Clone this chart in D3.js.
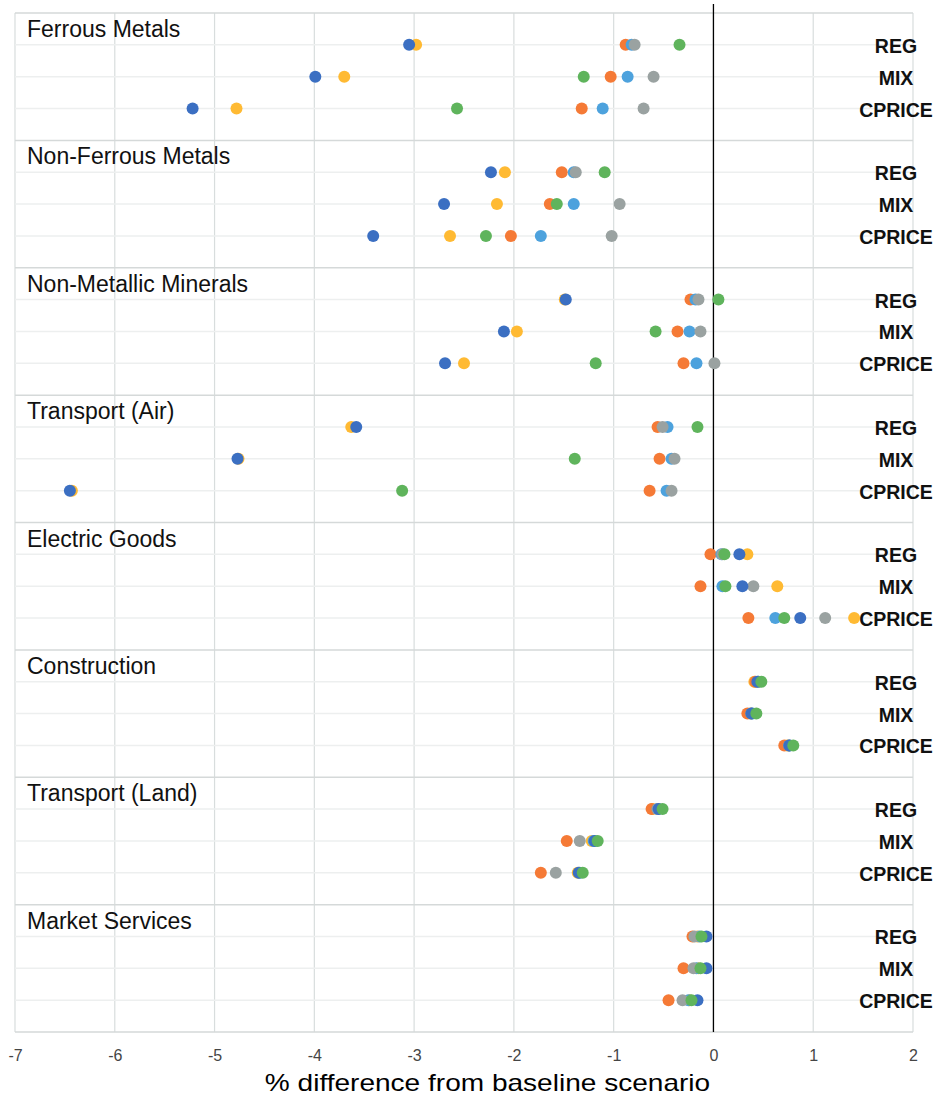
<!DOCTYPE html>
<html>
<head>
<meta charset="utf-8">
<script src="https://cdn.jsdelivr.net/npm/d3@7"></script>
<style>
  html, body { margin: 0; padding: 0; background: #ffffff; }
  svg { display: block; font-family: "Liberation Sans", Arial, sans-serif; }
</style>
</head>
<body>
<svg id="chart" width="935" height="1097"></svg>
<script>
// ---------- data ----------
const categories = ["Ferrous Metals", "Non-Ferrous Metals", "Non-Metallic Minerals", "Transport (Air)",
                    "Electric Goods", "Construction", "Transport (Land)", "Market Services"];
const scenarios = ["REG", "MIX", "CPRICE"];
const xTicks = [-7, -6, -5, -4, -3, -2, -1, 0, 1, 2];

// values per category: [REG, MIX, CPRICE], listed in drawing order
const seriesYellow = [
  [-2.98, -3.70, -4.78], [-2.09, -2.17, -2.64], [-1.49, -1.97, -2.50], [-3.63, -4.76, -6.43],
  [0.34, 0.64, 1.41], [0.41, 0.37, 0.74], [-0.61, -1.22, -1.36], [-0.16, -0.15, -0.24]
];
const seriesOrange = [
  [-0.88, -1.03, -1.32], [-1.52, -1.64, -2.03], [-0.23, -0.36, -0.30], [-0.56, -0.54, -0.64],
  [-0.03, -0.13, 0.35], [0.42, 0.34, 0.71], [-0.62, -1.47, -1.73], [-0.21, -0.30, -0.45]
];
const seriesLightBlue = [
  [-0.82, -0.86, -1.11], [-1.40, -1.40, -1.73], [-0.18, -0.24, -0.17], [-0.46, -0.42, -0.47],
  [0.08, 0.09, 0.62], [0.45, 0.39, 0.76], [-0.56, -1.20, -1.34], [-0.14, -0.17, -0.25]
];
const seriesGray = [
  [-0.79, -0.60, -0.70], [-1.38, -0.94, -1.02], [-0.15, -0.13, 0.01], [-0.51, -0.39, -0.42],
  [0.09, 0.40, 1.12], [0.45, 0.38, 0.76], [-0.56, -1.34, -1.58], [-0.19, -0.20, -0.31]
];
const seriesBlue = [
  [-3.05, -3.99, -5.22], [-2.23, -2.70, -3.41], [-1.48, -2.10, -2.69], [-3.58, -4.77, -6.45],
  [0.26, 0.29, 0.87], [0.44, 0.38, 0.76], [-0.55, -1.19, -1.35], [-0.07, -0.07, -0.16]
];
const seriesGreen = [
  [-0.34, -1.30, -2.57], [-1.09, -1.57, -2.28], [0.05, -0.58, -1.18], [-0.16, -1.39, -3.12],
  [0.11, 0.12, 0.71], [0.48, 0.43, 0.80], [-0.51, -1.16, -1.31], [-0.12, -0.13, -0.22]
];

const seriesList = [
  { name: "Series 1", color: "#FFBA33", values: seriesYellow },
  { name: "Series 2", color: "#F57A36", values: seriesOrange },
  { name: "Series 3", color: "#4DA2DD", values: seriesLightBlue },
  { name: "Series 4", color: "#9AA2A1", values: seriesGray },
  { name: "Series 5", color: "#3B6FC2", values: seriesBlue },
  { name: "Series 6", color: "#5FB45C", values: seriesGreen }
];

// ---------- layout ----------
const svg = d3.select("#chart");
const plotLeft = 15, plotRight = 913, plotTop = 13, plotBottom = 1032;
const slotsPerPanel = 4;
const nSlots = categories.length * slotsPerPanel;

const x = d3.scaleLinear().domain([xTicks[0], xTicks[xTicks.length - 1]]).range([plotLeft, plotRight]);
const y = d3.scaleLinear().domain([0, nSlots]).range([plotTop, plotBottom]);
const rowSlot = (ci, si) => ci * slotsPerPanel + si + 1;

// vertical grid
svg.append("g").selectAll("line").data(xTicks).join("line")
  .attr("x1", d => x(d)).attr("x2", d => x(d))
  .attr("y1", y(0)).attr("y2", y(nSlots))
  .attr("stroke", "#d8dddd").attr("stroke-width", 1.2);

// row grid lines
const rows = [];
categories.forEach((c, ci) => scenarios.forEach((s, si) => rows.push({ ci, si })));
svg.append("g").selectAll("line").data(rows).join("line")
  .attr("x1", plotLeft).attr("x2", plotRight)
  .attr("y1", d => y(rowSlot(d.ci, d.si))).attr("y2", d => y(rowSlot(d.ci, d.si)))
  .attr("stroke", "#edefef").attr("stroke-width", 1.5);

// panel separators
svg.append("g").selectAll("line").data(d3.range(categories.length + 1)).join("line")
  .attr("x1", plotLeft).attr("x2", plotRight)
  .attr("y1", d => y(d * slotsPerPanel)).attr("y2", d => y(d * slotsPerPanel))
  .attr("stroke", "#d5d9d9").attr("stroke-width", 1.5);

// zero line
svg.append("line")
  .attr("x1", x(0)).attr("x2", x(0))
  .attr("y1", 4).attr("y2", y(nSlots))
  .attr("stroke", "#000").attr("stroke-width", 1.3);

// x axis
const axis = svg.append("g").attr("transform", `translate(0,${y(nSlots)})`)
  .call(d3.axisBottom(x).tickValues(xTicks).tickSize(0).tickPadding(18).tickFormat(d => String(d)));
axis.select(".domain").remove();
axis.selectAll("text")
  .attr("font-family", "'Liberation Sans', Arial, sans-serif")
  .attr("font-size", 16).attr("fill", "#454545");

// axis title
svg.append("text")
  .attr("transform", `translate(${(265 + 710) / 2},1091) scale(1.22,1)`)
  .attr("text-anchor", "middle")
  .attr("font-size", 23).attr("fill", "#000")
  .text("% difference from baseline scenario");

// panel titles
svg.append("g").selectAll("text").data(categories).join("text")
  .attr("x", 27).attr("y", (d, i) => y(i * slotsPerPanel) + 24)
  .attr("font-size", 23).attr("fill", "#111")
  .text(d => d);

// scenario labels
svg.append("g").selectAll("text").data(rows).join("text")
  .attr("x", 896).attr("y", d => y(rowSlot(d.ci, d.si)) + 1)
  .attr("text-anchor", "middle").attr("dominant-baseline", "central")
  .attr("font-size", 19.5).attr("font-weight", "bold").attr("fill", "#111")
  .text(d => scenarios[d.si]);

// dots
seriesList.forEach(s => {
  const pts = [];
  s.values.forEach((vals, ci) => vals.forEach((v, si) => pts.push({ v, ci, si })));
  svg.append("g").attr("class", "series").selectAll("circle").data(pts).join("circle")
    .attr("cx", d => x(d.v))
    .attr("cy", d => y(rowSlot(d.ci, d.si)))
    .attr("r", 6)
    .attr("fill", s.color);
});
</script>
</body>
</html>
